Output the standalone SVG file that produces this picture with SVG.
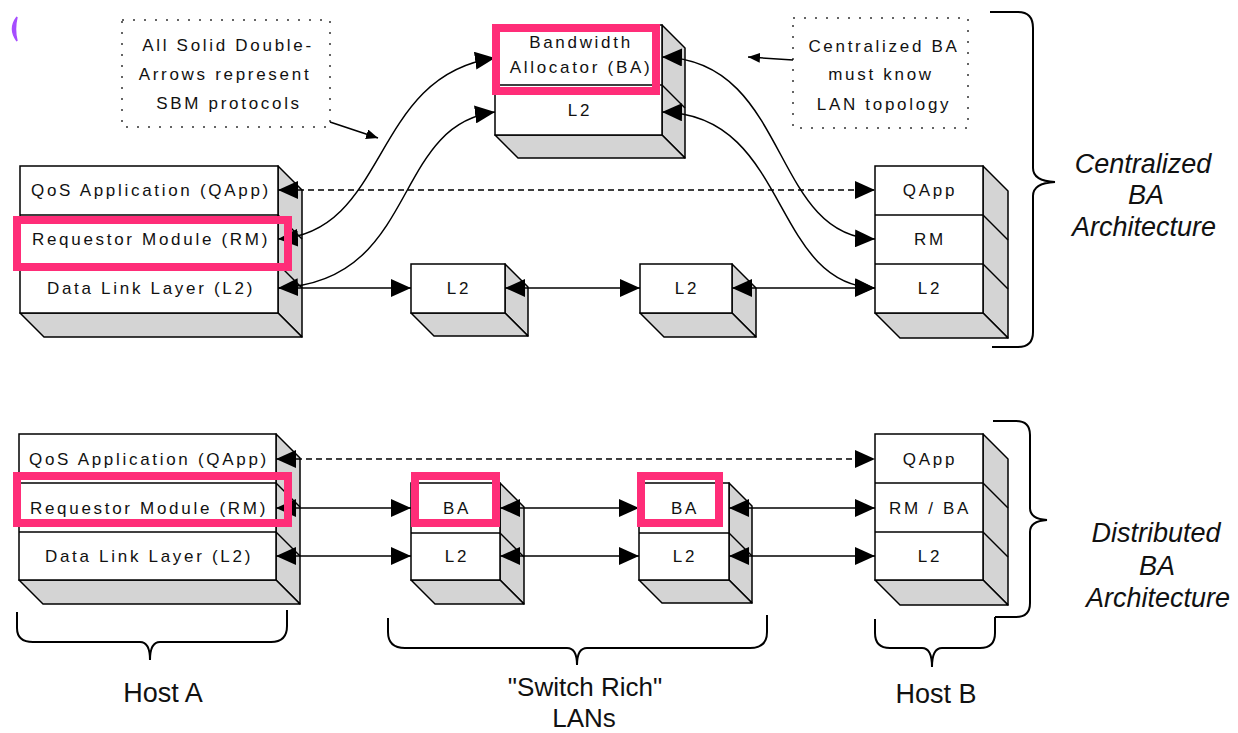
<svg xmlns="http://www.w3.org/2000/svg" width="1238" height="733" viewBox="0 0 1238 733">
<style>
.face{fill:#fff;stroke:#000;stroke-width:1.5}
.side{fill:#d4d4d4;stroke:#000;stroke-width:1.5;stroke-linejoin:round}
.ln{fill:none;stroke:#000;stroke-width:1.5}
.t{font-family:"Liberation Sans",Arial,sans-serif;font-size:17px;letter-spacing:2.7px;text-anchor:middle;fill:#111}
.lab{font-family:"Liberation Sans",Arial,sans-serif;font-size:27px;text-anchor:middle;fill:#111}
.sm26{font-size:26px}
.it{font-style:italic}
.hl{fill:none;stroke:#ff2d78;stroke-width:8}
.conn{fill:none;stroke:#000;stroke-width:1.5}
.dash{stroke-dasharray:6 4}
.note{fill:none;stroke:#333;stroke-width:1.5;stroke-dasharray:2 9}
.brace{fill:none;stroke:#000;stroke-width:2}
</style>
<defs>
<marker id="arr" markerUnits="userSpaceOnUse" markerWidth="20" markerHeight="18" refX="20" refY="9" orient="auto-start-reverse" viewBox="0 0 20 18">
<path d="M0,0 L20,9 L0,18 z" fill="#000"/>
</marker>
<marker id="sm" markerUnits="userSpaceOnUse" markerWidth="12" markerHeight="10" refX="12" refY="5" orient="auto" viewBox="0 0 12 10">
<path d="M0,0 L12,5 L0,10 z" fill="#000"/>
</marker>
</defs>
<rect width="1238" height="733" fill="#fff"/>
<path d="M17 17 Q8 29 17 41 Q14 29 17 17 z" fill="#a64dff" stroke="#a64dff" stroke-width="1.5"/>

<g id="note-sbm">
<rect class="note" x="122" y="20" width="208" height="107"/>
<text class="t" x="228" y="51">All Solid Double-</text>
<text class="t" x="225" y="80">Arrows represent</text>
<text class="t" x="229" y="109">SBM protocols</text>
</g>
<g id="note-topology">
<rect class="note" x="793" y="18" width="175" height="110"/>
<text class="t" x="884" y="52">Centralized BA</text>
<text class="t" x="881" y="80">must know</text>
<text class="t" x="884" y="110">LAN topology</text>
</g>

<g id="ba-central">
<polygon class="side" points="662,25 685,48 685,158 662,135"/>
<polygon class="side" points="495,135 518,158 685,158 662,135"/>
<rect class="face" x="495" y="25" width="167" height="110"/>
<line class="ln" x1="495" y1="85" x2="662" y2="85"/>
<line class="ln" x1="662" y1="85" x2="685" y2="108"/>
<text class="t" x="581" y="48">Bandwidth</text>
<text class="t" x="581" y="73">Allocator (BA)</text>
<text class="t" x="580" y="116">L2</text>
</g>

<g id="hostA-top">
<polygon class="side" points="278,166 302,190 302,337 278,313"/>
<polygon class="side" points="20,313 44,337 302,337 278,313"/>
<rect class="face" x="20" y="166" width="258" height="147"/>
<line class="ln" x1="20" y1="215" x2="278" y2="215"/>
<line class="ln" x1="20" y1="264" x2="278" y2="264"/>
<line class="ln" x1="278" y1="215" x2="302" y2="239"/>
<line class="ln" x1="278" y1="264" x2="302" y2="288"/>
<text class="t" x="151" y="196">QoS Application (QApp)</text>
<text class="t" x="151" y="245">Requestor Module (RM)</text>
<text class="t" x="151" y="294">Data Link Layer (L2)</text>
</g>

<g id="l2-top-1">
<polygon class="side" points="505,264 528,287 528,336 505,313"/>
<polygon class="side" points="411,313 434,336 528,336 505,313"/>
<rect class="face" x="411" y="264" width="94" height="49"/>
<text class="t" x="459" y="294">L2</text>
</g>
<g id="l2-top-2">
<polygon class="side" points="732,264 756,288 756,337 732,313"/>
<polygon class="side" points="640,313 664,337 756,337 732,313"/>
<rect class="face" x="640" y="264" width="92" height="49"/>
<text class="t" x="687" y="294">L2</text>
</g>

<g id="hostB-top">
<polygon class="side" points="983,166 1008,191 1008,338 983,313"/>
<polygon class="side" points="875,313 900,338 1008,338 983,313"/>
<rect class="face" x="875" y="166" width="108" height="147"/>
<line class="ln" x1="875" y1="215" x2="983" y2="215"/>
<line class="ln" x1="875" y1="264" x2="983" y2="264"/>
<line class="ln" x1="983" y1="215" x2="1008" y2="240"/>
<line class="ln" x1="983" y1="264" x2="1008" y2="289"/>
<text class="t" x="930" y="196">QApp</text>
<text class="t" x="930" y="245">RM</text>
<text class="t" x="930" y="294">L2</text>
</g>

<g id="hostA-bottom">
<polygon class="side" points="276,434 300,458 300,604 276,580"/>
<polygon class="side" points="19,580 43,604 300,604 276,580"/>
<rect class="face" x="19" y="434" width="257" height="146"/>
<line class="ln" x1="19" y1="483" x2="276" y2="483"/>
<line class="ln" x1="19" y1="532" x2="276" y2="532"/>
<line class="ln" x1="276" y1="483" x2="300" y2="507"/>
<line class="ln" x1="276" y1="532" x2="300" y2="556"/>
<text class="t" x="149" y="465">QoS Application (QApp)</text>
<text class="t" x="149" y="514">Requestor Module (RM)</text>
<text class="t" x="149" y="562">Data Link Layer (L2)</text>
</g>

<g id="switch-1">
<polygon class="side" points="500,483 524,507 524,604 500,580"/>
<polygon class="side" points="411,580 435,604 524,604 500,580"/>
<rect class="face" x="411" y="483" width="89" height="97"/>
<line class="ln" x1="411" y1="533" x2="500" y2="533"/>
<line class="ln" x1="500" y1="533" x2="524" y2="557"/>
<text class="t" x="457" y="514">BA</text>
<text class="t" x="457" y="562">L2</text>
</g>
<g id="switch-2">
<polygon class="side" points="729,483 752,506 752,603 729,580"/>
<polygon class="side" points="639,580 662,603 752,603 729,580"/>
<rect class="face" x="639" y="483" width="90" height="97"/>
<line class="ln" x1="639" y1="533" x2="729" y2="533"/>
<line class="ln" x1="729" y1="533" x2="752" y2="556"/>
<text class="t" x="685" y="514">BA</text>
<text class="t" x="685" y="562">L2</text>
</g>

<g id="hostB-bottom">
<polygon class="side" points="983,434 1008,459 1008,605 983,580"/>
<polygon class="side" points="875,580 900,605 1008,605 983,580"/>
<rect class="face" x="875" y="434" width="108" height="146"/>
<line class="ln" x1="875" y1="483" x2="983" y2="483"/>
<line class="ln" x1="875" y1="532" x2="983" y2="532"/>
<line class="ln" x1="983" y1="483" x2="1008" y2="508"/>
<line class="ln" x1="983" y1="532" x2="1008" y2="557"/>
<text class="t" x="930" y="465">QApp</text>
<text class="t" x="930" y="514">RM / BA</text>
<text class="t" x="930" y="562">L2</text>
</g>

<g id="connectors">
<path class="conn dash" d="M278 190 L875 190" marker-start="url(#arr)" marker-end="url(#arr)"/>
<path class="conn" d="M278 239 C390 232 370 75 495 58" marker-start="url(#arr)" marker-end="url(#arr)"/>
<path class="conn" d="M278 288 C420 282 390 125 495 112" marker-start="url(#arr)" marker-end="url(#arr)"/>
<path class="conn" d="M662 57 C790 60 770 236 875 239" marker-start="url(#arr)" marker-end="url(#arr)"/>
<path class="conn" d="M662 112 C790 114 770 284 875 288" marker-start="url(#arr)" marker-end="url(#arr)"/>
<path class="conn" d="M278 288 L411 288" marker-end="url(#arr)"/>
<path class="conn" d="M505 288 L640 288" marker-start="url(#arr)" marker-end="url(#arr)"/>
<path class="conn" d="M732 288 L875 288" marker-start="url(#arr)" marker-end="url(#arr)"/>
<path class="conn dash" d="M276 459 L875 459" marker-start="url(#arr)" marker-end="url(#arr)"/>
<path class="conn" d="M276 508 L411 508" marker-start="url(#arr)" marker-end="url(#arr)"/>
<path class="conn" d="M500 508 L639 508" marker-start="url(#arr)" marker-end="url(#arr)"/>
<path class="conn" d="M729 508 L875 508" marker-start="url(#arr)" marker-end="url(#arr)"/>
<path class="conn" d="M276 556 L411 556" marker-start="url(#arr)" marker-end="url(#arr)"/>
<path class="conn" d="M500 556 L639 556" marker-start="url(#arr)" marker-end="url(#arr)"/>
<path class="conn" d="M729 556 L875 556" marker-start="url(#arr)" marker-end="url(#arr)"/>
<path class="conn" d="M330 122 L378 138" marker-end="url(#sm)"/>
<path class="conn" d="M793 60 L748 57" marker-end="url(#sm)"/>
</g>

<g id="highlights">
<rect class="hl" x="496" y="28" width="160" height="63"/>
<rect class="hl" x="17" y="220" width="271" height="47"/>
<rect class="hl" x="17" y="476" width="271" height="47"/>
<rect class="hl" x="415" y="476" width="81" height="47"/>
<rect class="hl" x="641" y="476" width="78" height="47"/>
</g>

<g id="braces">
<path class="brace" d="M990 12 L1018 12 Q1033 12 1033 28 L1033 168 Q1033 181 1055 182 Q1033 183 1033 196 L1033 332 Q1033 347 1018 347 L992 347"/>
<path class="brace" d="M993 421 L1016 421 Q1030 421 1030 435 L1030 508 Q1030 519 1047 520 Q1030 521 1030 532 L1030 603 Q1030 617 1016 617 L995 617"/>
<path class="brace" d="M17 612 L17 628 Q17 642 33 642 L140 642 Q150 642 150 660 Q150 642 160 642 L271 642 Q287 642 287 626 L287 610"/>
<path class="brace" d="M388 618 L388 632 Q388 648 405 648 L567 648 Q577 648 577 665 Q577 648 587 648 L750 648 Q767 648 767 632 L767 615"/>
<path class="brace" d="M875 619 L875 633 Q875 648 890 648 L922 648 Q932 648 932 667 Q932 648 942 648 L980 648 Q995 648 995 633 L995 617"/>
</g>

<g id="labels">
<text class="lab it" x="1143" y="173">Centralized</text>
<text class="lab it" x="1146" y="204">BA</text>
<text class="lab it" x="1144" y="236">Architecture</text>
<text class="lab it" x="1156" y="542">Distributed</text>
<text class="lab it" x="1157" y="575">BA</text>
<text class="lab it" x="1158" y="607">Architecture</text>
<text class="lab" x="163" y="702">Host A</text>
<text class="lab sm26" x="585" y="696">"Switch Rich"</text>
<text class="lab sm26" x="584" y="727">LANs</text>
<text class="lab" x="936" y="703">Host B</text>
</g>
</svg>
